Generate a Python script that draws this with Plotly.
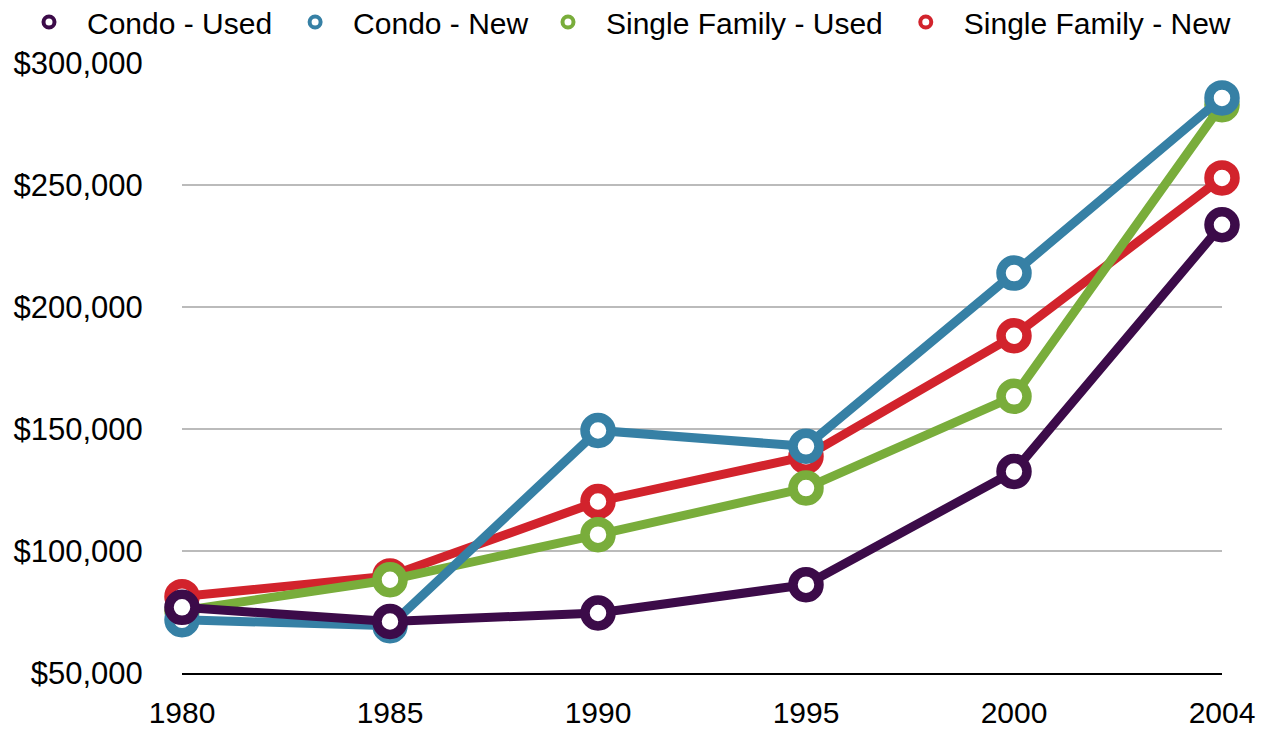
import plotly.graph_objects as go

years = ["1980", "1985", "1990", "1995", "2000", "2004"]
condo_used = [76900, 71100, 74600, 86200, 132600, 233700]
condo_new = [71800, 69400, 149400, 142900, 213900, 285700]
sf_used = [75500, 88200, 106700, 125800, 163400, 282900]
sf_new = [81300, 89800, 120300, 138800, 188200, 252900]
y_ticks = [50000, 100000, 150000, 200000, 250000, 300000]

series = [
    ("Condo - Used", condo_used, "#3C0B49", "legend"),
    ("Condo - New", condo_new, "#3680A5", "legend"),
    ("Single Family - Used", sf_used, "#79AD3B", "legend2"),
    ("Single Family - New", sf_new, "#D2232C", "legend2"),
]

FONT = "Liberation Sans, Arial, Helvetica, sans-serif"
W, H = 1257, 724  # page body has an 8px margin
fig = go.Figure()

# legend entries (legend order)
for name, vals, col, lg in series:
    fig.add_trace(go.Scatter(
        x=[None], y=[None], name=name, mode="markers", legend=lg,
        marker=dict(symbol="circle", size=11, color="white", line=dict(color=col, width=4)),
        showlegend=True,
    ))

# data traces, drawn bottom to top
for name, vals, col, lg in reversed(series):
    fig.add_trace(go.Scatter(
        x=years, y=vals, name=name, mode="lines+markers", showlegend=False,
        line=dict(color=col, width=9),
        marker=dict(symbol="circle", size=26, color="white", line=dict(color=col, width=9.5)),
        cliponaxis=False,
    ))

legend_common = dict(
    orientation="h", xref="container", yref="container",
    xanchor="left", y=1 - 14 / H, yanchor="middle",
    font=dict(family=FONT, size=30, color="black"),
    itemwidth=66, bgcolor="rgba(0,0,0,0)",
)

fig.update_layout(
    width=W, height=H,
    margin=dict(l=174, r=43, t=55, b=59, autoexpand=False),
    paper_bgcolor="white", plot_bgcolor="white",
    font=dict(family=FONT, size=30, color="black"),
    showlegend=True,
    legend=dict(x=3 / W, **legend_common),
    legend2=dict(x=522 / W, **legend_common),
    xaxis=dict(
        type="category", range=[0, 5], showgrid=False, zeroline=False,
        showline=True, linecolor="black", linewidth=2,
        ticks="outside", ticklen=12, tickcolor="rgba(0,0,0,0)",
        tickfont=dict(family=FONT, size=30, color="black"),
    ),
    yaxis=dict(
        range=[50000, 300000], tickvals=y_ticks, tickformat="$,.0f",
        showgrid=True, gridcolor="#BBBBBB", gridwidth=2, zeroline=False,
        showline=False, ticks="outside", ticklen=32, tickcolor="rgba(0,0,0,0)",
        tickfont=dict(family=FONT, size=31, color="black"),
    ),
)

fig.write_html("out.html")
